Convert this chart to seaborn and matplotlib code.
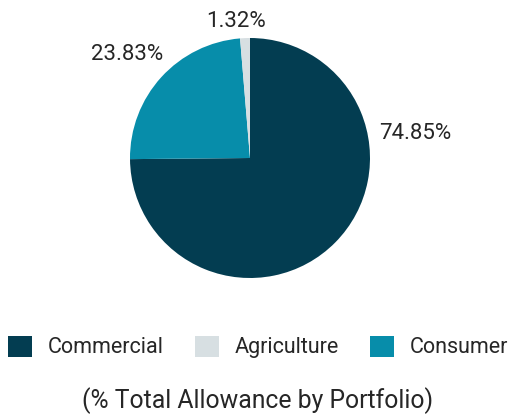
import matplotlib
matplotlib.use("Agg")
import matplotlib.pyplot as plt
import seaborn as sns
from matplotlib.patches import Patch

# data (clockwise from 12 o'clock)
portfolios = ['Commercial', 'Consumer', 'Agriculture']
shares = [74.85, 23.83, 1.32]
colors = ['#033d51', '#078daa', '#d7dfe2']
legend_order = ['Commercial', 'Agriculture', 'Consumer']
title = '(% Total Allowance by Portfolio)'

sns.set_theme(style='white')
plt.rcParams['font.family'] = ['Roboto', 'DejaVu Sans']
text_color = '#262626'

fig = plt.figure(figsize=(5.09, 4.19), dpi=100)
ax = fig.add_axes([130 / 509, 141 / 419, 240 / 509, 240 / 419])

wedges, _ = ax.pie(shares, colors=colors, startangle=90, counterclock=False,
                   radius=1.0, wedgeprops=dict(linewidth=0))
ax.set_xlim(-1, 1)
ax.set_ylim(-1, 1)
ax.set_aspect('equal')
ax.axis('off')

# label positions (data units of the pie axes)
label_pos = {'Commercial': (1.375, 0.208),
             'Consumer': (-1.025, 0.86),
             'Agriculture': (-0.117, 1.14)}
for name, val in zip(portfolios, shares):
    x, y = label_pos[name]
    ax.text(x, y, f'{val:.2f}%', ha='center', va='center', fontsize=16,
            color=text_color, clip_on=False)

handles = [Patch(facecolor=colors[portfolios.index(n)], edgecolor='none', label=n)
           for n in legend_order]
fig.legend(handles=handles, loc='center', bbox_to_anchor=(258 / 509, 1 - 347 / 419),
           ncol=3, frameon=False, fontsize=15.5, handlelength=1.12, handleheight=1.12,
           handletextpad=0.72, columnspacing=1.45, labelcolor=text_color)

fig.text(257.5 / 509, 1 - 401 / 419, title, ha='center', va='center',
         fontsize=17.8, color=text_color)

fig.savefig('out.png', dpi=100)
